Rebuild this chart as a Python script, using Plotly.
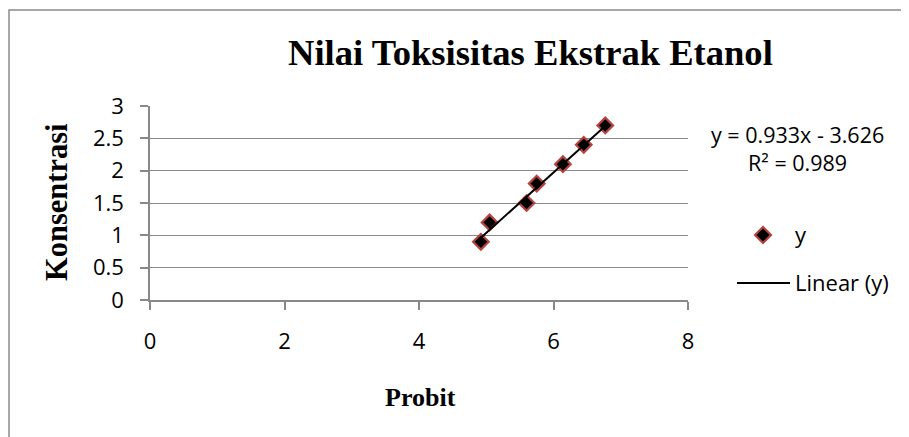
import plotly.graph_objects as go

# Data
probit = [4.92, 5.05, 5.60, 5.75, 6.14, 6.45, 6.77]
konsentrasi = [0.9, 1.2, 1.5, 1.8, 2.1, 2.4, 2.7]
slope = 0.933
intercept = -3.626
r2 = 0.989
x_ticks = [0, 2, 4, 6, 8]
y_ticks = [0, 0.5, 1, 1.5, 2, 2.5, 3]

# page offset (default body margin of the html page)
OX, OY = 8, 8
W, H = 901, 429
L, R, T, B = 142, 221, 98, 137
PW, PH = W - L - R, H - T - B


def px(x):
    return (x - OX - L) / PW


def py(y):
    return (H - B - (y - OY)) / PH


trend_x = [min(probit), max(probit)]
trend_y = [slope * v + intercept for v in trend_x]

fig = go.Figure()
fig.add_trace(go.Scatter(
    x=probit, y=konsentrasi, mode="markers", name="y",
    marker=dict(symbol="diamond", size=12, color="#000000",
                line=dict(color="#b5433f", width=2.2)),
    showlegend=False, cliponaxis=False,
))
fig.add_trace(go.Scatter(
    x=trend_x, y=trend_y, mode="lines", name="Linear (y)",
    line=dict(color="#000000", width=2), showlegend=False,
))

tick_font = dict(family="Open Sans", size=22, color="#000000")
gray = "#898989"

fig.update_layout(
    width=W, height=H,
    margin=dict(l=L, r=R, t=T, b=B),
    paper_bgcolor="white", plot_bgcolor="white",
    showlegend=False,
    xaxis=dict(range=[0, 8], tickvals=x_ticks, showgrid=False, zeroline=False,
               showline=True, linecolor=gray, linewidth=1.5,
               ticks="outside", ticklen=8, tickcolor=gray, tickwidth=1.5,
               tickfont=tick_font, ticklabelstandoff=13),
    yaxis=dict(range=[0, 3], tickvals=y_ticks, showgrid=True, gridcolor=gray,
               gridwidth=1.2, zeroline=False,
               showline=True, linecolor=gray, linewidth=1.5,
               ticks="outside", ticklen=8, tickcolor=gray, tickwidth=1.5,
               tickfont=tick_font, ticklabelstandoff=12),
)

serif_bold = "Liberation Serif"
ann = []
ann.append(dict(text="<b>Nilai Toksisitas Ekstrak Etanol</b>", x=px(530), y=py(52),
                font=dict(family=serif_bold, size=36.6, color="#000")))
ann.append(dict(text="<b>Probit</b>", x=px(420), y=py(397),
                font=dict(family=serif_bold, size=26, color="#000")))
ann.append(dict(text="<b>Konsentrasi</b>", x=px(57), y=py(202), textangle=-90,
                font=dict(family=serif_bold, size=30.5, color="#000")))
ann.append(dict(text=f"y = {slope}x - {abs(intercept)}<br>R² = {r2}",
                x=px(797), y=py(148), align="center",
                font=dict(family="Open Sans", size=21.5, color="#000")))
ann.append(dict(text="y", x=px(793), y=py(234), xanchor="left",
                font=dict(family="Open Sans", size=22, color="#000")))
ann.append(dict(text="Linear (y)", x=px(793), y=py(282), xanchor="left",
                font=dict(family="Open Sans", size=22, color="#000")))
for a in ann:
    a.setdefault("xanchor", "center")
    a.update(xref="paper", yref="paper", yanchor="middle", showarrow=False)
fig.update_layout(annotations=ann)

shapes = []
# outer chart border (top and left visible)
shapes.append(dict(type="rect", xref="paper", yref="paper",
                   x0=px(9), x1=px(960), y0=py(480), y1=py(10),
                   line=dict(color="#8a8a8a", width=1.5), fillcolor="rgba(0,0,0,0)",
                   layer="below"))
# legend line sample
shapes.append(dict(type="line", xref="paper", yref="paper",
                   x0=px(737), x1=px(790), y0=py(283), y1=py(283),
                   line=dict(color="#000", width=2)))
# legend marker sample (diamond)
cx, cy, r = 763, 235, 8
path = f"M {px(cx)} {py(cy - r)} L {px(cx + r)} {py(cy)} L {px(cx)} {py(cy + r)} L {px(cx - r)} {py(cy)} Z"
shapes.append(dict(type="path", xref="paper", yref="paper", path=path,
                   fillcolor="#000", line=dict(color="#b5433f", width=2.2)))
fig.update_layout(shapes=shapes)

fig.write_html("out.html")
